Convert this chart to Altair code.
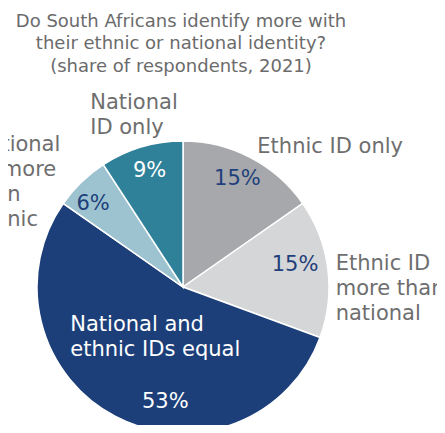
import altair as alt
import pandas as pd

# ---- data ----
categories = [
    "Ethnic ID only",
    "Ethnic ID more than national",
    "National and ethnic IDs equal",
    "National ID more than ethnic",
    "National ID only",
]
shares = [15, 15, 53, 6, 9]
pct_labels = ["15%", "15%", "53%", "6%", "9%"]
label_lines = [
    ["Ethnic ID only"],
    ["Ethnic ID", "more than", "national"],
    ["National and", "ethnic IDs equal"],
    ["National", "ID more", "than", "ethnic"],
    ["National", "ID only"],
]
title_lines = [
    "Do South Africans identify more with",
    "their ethnic or national identity?",
    "(share of respondents, 2021)",
]

# ---- styles ----
colors = ["#a6a8ab", "#d5d6d8", "#1c3f7a", "#9dc3d1", "#2e8199"]
NAVY = "#1f3f7a"
GRAY = "#6e6e6e"
FONT = "DejaVu Sans"
CX, CY, R = 175, 279, 146

df = pd.DataFrame({
    "category": categories,
    "share": shares,
    "pct": pct_labels,
    "label": ["\n".join(l) for l in label_lines],
    "idx": list(range(len(categories))),
})

base = alt.Chart(df).encode(
    theta=alt.Theta("share:Q", stack=True),
    order=alt.Order("idx:Q", sort="ascending"),
    x=alt.value(CX),
    y=alt.value(CY),
)

arc = base.mark_arc(outerRadius=R, stroke="white", strokeWidth=1.5).encode(
    color=alt.Color("category:N", scale=alt.Scale(domain=categories, range=colors), legend=None)
)

# (radius, dx, dy, color)
pct_style = {
    "Ethnic ID only": (122, -2, 0, NAVY),
    "Ethnic ID more than national": (116, -3, -7, NAVY),
    "National and ethnic IDs equal": (116, 36, 12, "white"),
    "National ID more than ethnic": (122, -5, 5, NAVY),
    "National ID only": (121, 1, 0, "white"),
}
# (radius, dx, dy, align, color)
label_style = {
    "Ethnic ID only": (165, -2, 6, "left", GRAY),
    "Ethnic ID more than national": (160, -6, -3, "left", GRAY),
    "National and ethnic IDs equal": (60, -85, -15.5, "left", "white"),
    "National ID more than ethnic": (190, -78, -5.5, "left", GRAY),
    "National ID only": (175, -43, -16.5, "left", GRAY),
}

layers = [arc]
for cat, (r, dx, dy, col) in pct_style.items():
    layers.append(
        base.mark_text(radius=r, dx=dx, dy=dy, align="center", baseline="middle",
                       fontSize=21, font=FONT, color=col).encode(
            text=alt.condition(alt.datum.category == cat, alt.Text("pct:N"), alt.value(""))
        )
    )
for cat, (r, dx, dy, al, col) in label_style.items():
    layers.append(
        base.mark_text(radius=r, dx=dx, dy=dy, align=al, baseline="middle",
                       fontSize=21, font=FONT, color=col, lineBreak="\n", lineHeight=25).encode(
            text=alt.condition(alt.datum.category == cat, alt.Text("label:N"), alt.value(""))
        )
    )

title = alt.Chart(pd.DataFrame({"t": [0]})).mark_text(
    text=title_lines, align="center", baseline="top", fontSize=18, font=FONT,
    color="#6b6b6b", lineHeight=22.3,
).encode(x=alt.value(173), y=alt.value(5))

chart = alt.layer(*layers, title).properties(
    width=429, height=417,
    autosize=alt.AutoSizeParams(type="none"),
    padding=0,
).configure_view(stroke=None)

chart.save("out.html", embed_options={"renderer": "svg", "actions": False})
